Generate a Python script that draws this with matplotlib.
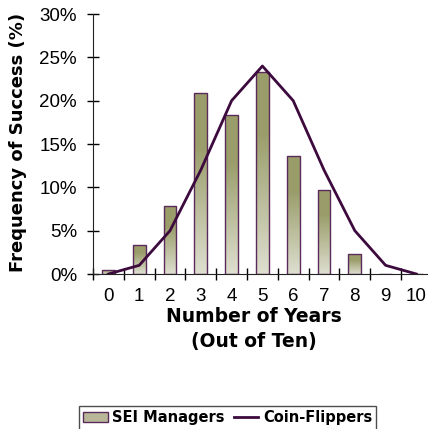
import numpy as np
import matplotlib
matplotlib.use("Agg")
import matplotlib.pyplot as plt
from matplotlib.colors import LinearSegmentedColormap
from matplotlib.lines import Line2D
from matplotlib.patches import Patch

years = list(range(11))
year_labels = [str(y) for y in years]
sei_managers = [0.5, 3.4, 7.8, 20.9, 18.4, 23.3, 13.6, 9.7, 2.3, 0.0, 0.0]
coin_flippers = [0, 1, 5, 12, 20, 24, 20, 12, 5, 1, 0]
y_ticks = [0, 5, 10, 15, 20, 25, 30]

bar_top = "#9a9d6a"
bar_bottom = "#dedfd0"
bar_edge = "#5a2a5a"
line_color = "#3d0a3d"
tick_font = "Liberation Sans"

fig = plt.figure(figsize=(4.28, 4.29), dpi=100)
ax = fig.add_axes([0.2173, 0.3613, 0.7916, 0.606])

x = np.arange(len(years)) + 0.5
bars = ax.bar(x, sei_managers, width=0.42, facecolor="none",
              edgecolor=bar_edge, linewidth=1.0, zorder=3)

cmap = LinearSegmentedColormap.from_list(
    "olive", [(0.0, bar_bottom), (0.7, bar_top), (1.0, bar_top)])
grad = np.linspace(0, 1, 256).reshape(-1, 1)
for b in bars:
    h = b.get_height()
    if h <= 0:
        continue
    x0 = b.get_x()
    im = ax.imshow(grad, cmap=cmap, origin="lower", aspect="auto",
                   extent=(x0, x0 + b.get_width(), 0, h), zorder=2)
    im.set_clip_path(b)

ax.plot(x, coin_flippers, color=line_color, linewidth=2.0, zorder=4)

ax.set_xlim(0, 11)
ax.set_ylim(0, 30)
ax.set_xticks(np.arange(0, 12))
ax.set_xticklabels([])
ax.set_xticks(x, minor=True)
ax.set_xticklabels(year_labels, minor=True, fontfamily=tick_font)
ax.tick_params(axis="x", which="minor", length=0, pad=10, labelsize=13.5)
ax.tick_params(axis="x", which="major", direction="inout", length=9, width=1)
ax.set_yticks(y_ticks)
ax.set_yticklabels([f"{v}%" for v in y_ticks], fontfamily=tick_font)
ax.tick_params(axis="y", direction="inout", length=9, width=1, labelsize=13.5, pad=7)

for side in ("top", "right"):
    ax.spines[side].set_visible(False)
for side in ("left", "bottom"):
    ax.spines[side].set_color("#222222")

fig.text(0.043, 0.668, "Frequency of Success (%)", rotation=90,
         ha="center", va="center", fontsize=13, fontweight="heavy")
fig.text(0.592, 0.263, "Number of Years", ha="center", va="center",
         fontsize=13.5, fontweight="heavy")
fig.text(0.592, 0.203, "(Out of Ten)", ha="center", va="center",
         fontsize=13.5, fontweight="heavy")

handles = [Patch(facecolor="#b8b898", edgecolor=bar_edge, label="SEI Managers"),
           Line2D([0], [0], color=line_color, linewidth=2, label="Coin-Flippers")]
leg = fig.legend(handles=handles, loc="lower center", bbox_to_anchor=(0.532, -0.012),
                 ncol=2, frameon=True, fancybox=False, edgecolor="#222222",
                 prop={"weight": "bold", "size": 10.5}, handlelength=1.7,
                 handletextpad=0.3, columnspacing=0.6, borderpad=0.3,
                 borderaxespad=0.3)
leg.get_frame().set_linewidth(1.0)

fig.savefig("out.png", dpi=100)
